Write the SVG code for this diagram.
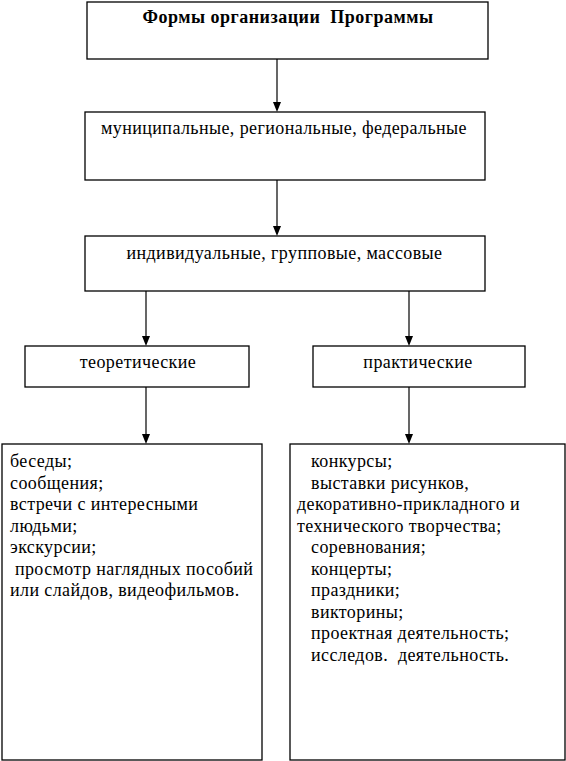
<svg xmlns="http://www.w3.org/2000/svg" width="566" height="761" viewBox="0 0 566 761">
<style>
rect{fill:#fff;stroke:#000;stroke-width:1.3}
text{font-family:"Liberation Serif","Times New Roman",serif;font-size:18px;letter-spacing:0.4px;fill:#000}
.c{text-anchor:middle}
.b{font-weight:bold;letter-spacing:0.5px}
line{stroke:#000;stroke-width:1.2}
.ah{fill:#000}
</style>
<g id="connectors">
<line x1="277" y1="59" x2="277" y2="102"/>
<path class="ah" d="M273,102 L281,102 L277,112 Z"/>
<line x1="277" y1="180" x2="277" y2="226"/>
<path class="ah" d="M273,226 L281,226 L277,236 Z"/>
<line x1="146" y1="291" x2="146" y2="336"/>
<path class="ah" d="M142,336 L150,336 L146,346 Z"/>
<line x1="409" y1="291" x2="409" y2="336"/>
<path class="ah" d="M405,336 L413,336 L409,346 Z"/>
<line x1="146" y1="387" x2="146" y2="434"/>
<path class="ah" d="M142,434 L150,434 L146,444 Z"/>
<line x1="409" y1="387" x2="409" y2="434"/>
<path class="ah" d="M405,434 L413,434 L409,444 Z"/>
</g>
<g id="n1">
<rect x="87" y="2" width="401" height="57"/>
<text class="c b" x="288" y="23" xml:space="preserve">Формы организации  Программы</text>
</g>
<g id="n2">
<rect x="85" y="112" width="400" height="68"/>
<text class="c" x="284" y="134">муниципальные, региональные, федеральные</text>
</g>
<g id="n3">
<rect x="85" y="236" width="400" height="55"/>
<text class="c" x="284.5" y="259">индивидуальные, групповые, массовые</text>
</g>
<g id="n4">
<rect x="25" y="346" width="224" height="41"/>
<text class="c" x="138" y="368">теоретические</text>
</g>
<g id="n5">
<rect x="313" y="346" width="212" height="41"/>
<text class="c" x="418" y="368">практические</text>
</g>
<g id="n6">
<rect x="2" y="444" width="260" height="316"/>
<text x="10" y="467">беседы;</text>
<text x="10" y="488.5">сообщения;</text>
<text x="10" y="510">встречи с интересными</text>
<text x="10" y="531.5">людьми;</text>
<text x="10" y="553">экскурсии;</text>
<text x="10" y="574.5" xml:space="preserve"> просмотр наглядных пособий</text>
<text x="10" y="596">или слайдов, видеофильмов.</text>
</g>
<g id="n7">
<rect x="290" y="444" width="275" height="316"/>
<text x="311" y="467">конкурсы;</text>
<text x="311" y="488.5">выставки рисунков,</text>
<text x="297" y="510">декоративно-прикладного и</text>
<text x="297" y="531.5">технического творчества;</text>
<text x="311" y="553">соревнования;</text>
<text x="311" y="574.5">концерты;</text>
<text x="311" y="596">праздники;</text>
<text x="311" y="617.5">викторины;</text>
<text x="311" y="639">проектная деятельность;</text>
<text x="311" y="660.5" xml:space="preserve">исследов.  деятельность.</text>
</g>
</svg>
